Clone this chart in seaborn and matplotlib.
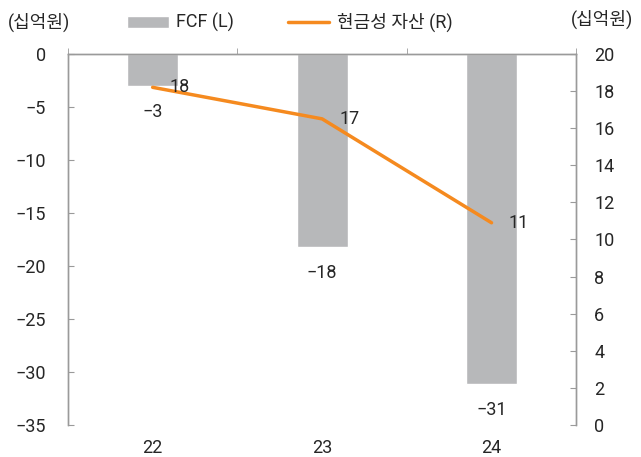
import numpy as np
import pandas as pd
import matplotlib
matplotlib.use("Agg")
import matplotlib.pyplot as plt
import seaborn as sns

# 데이터 (단위: 십억원)
years = ["22", "23", "24"]
fcf = [-3.0, -18.2, -31.1]
cash = [18.2, 16.5, 10.9]
fcf_labels = ["\u22123", "\u221218", "\u221231"]
cash_labels = ["18", "17", "11"]

sns.set_style("white")
plt.rcParams["font.family"] = ["Roboto", "Noto Sans CJK KR", "DejaVu Sans"]
plt.rcParams["axes.unicode_minus"] = True

BAR_C = "#B7B8BA"
LINE_C = "#F58A1F"
SPINE_C = "#9A9A9A"
FS = 13

df = pd.DataFrame({"year": years, "fcf": fcf, "cash": cash})
df["pos"] = np.arange(len(df))

fig = plt.figure(figsize=(6.41, 4.57), dpi=100)
ax = fig.add_axes([0.106, 0.070, 0.793, 0.812])

sns.barplot(data=df, x="year", y="fcf", color=BAR_C, width=0.30,
            saturation=1, ax=ax, label="FCF (L)")
ax.set_ylim(-35, 0)
ax.set_xlim(-0.5, 2.5)
ax.set_yticks(range(-35, 1, 5))
ax.set_xlabel("")
ax.set_ylabel("")
if ax.get_legend() is not None:
    ax.get_legend().remove()

ax2 = ax.twinx()
sns.lineplot(data=df, x="pos", y="cash", color=LINE_C, linewidth=2.5,
             ax=ax2, label="현금성 자산 (R)")
ax2.set_ylim(0, 20)
ax2.set_yticks(range(0, 21, 2))
ax2.set_ylabel("")
ax2.set_xlim(-0.5, 2.5)
ax2.get_legend().remove()

# 축 스타일
for a in (ax, ax2):
    for s in a.spines.values():
        s.set_color(SPINE_C)
        s.set_linewidth(1.0)
    a.spines["bottom"].set_visible(False)
ax.tick_params(axis="y", direction="in", length=4, color=SPINE_C, pad=16,
               labelsize=FS)
ax2.tick_params(axis="y", direction="in", length=4, color=SPINE_C, pad=13,
                labelsize=FS)
ax.set_xticks(range(len(years)))
ax.set_xticklabels(years)
ax.tick_params(axis="x", which="major", bottom=True, top=False, length=0,
               pad=10, labelsize=FS)
ax.set_xticks([-0.5, 0.5, 1.5, 2.5], minor=True)
ax.tick_params(axis="x", which="minor", bottom=False, top=True,
               direction="out", length=4, color=SPINE_C)
ax2.tick_params(axis="x", which="both", bottom=False, top=False,
                labelbottom=False)

# 데이터 레이블
for i, (v, t) in enumerate(zip(fcf, fcf_labels)):
    ax.text(i, v - 1.6, t, ha="center", va="top", fontsize=FS)
for i, (v, t) in enumerate(zip(cash, cash_labels)):
    ax2.text(i + 0.1, v, t, ha="left", va="center", fontsize=FS)

# 단위 및 범례
fig.text(0.013, 0.950, "(십억원)", ha="left", va="center", fontsize=FS)
fig.text(0.988, 0.958, "(십억원)", ha="right", va="center", fontsize=FS)

h1, l1 = ax.get_legend_handles_labels()
h2, l2 = ax2.get_legend_handles_labels()
fig.legend(h1 + h2, l1 + l2, loc="center left", bbox_to_anchor=(0.173, 0.950),
           ncol=2, frameon=False, fontsize=FS, handlelength=2.3,
           handleheight=0.6, columnspacing=3.0, handletextpad=0.4)

fig.savefig("out.png", dpi=100)
